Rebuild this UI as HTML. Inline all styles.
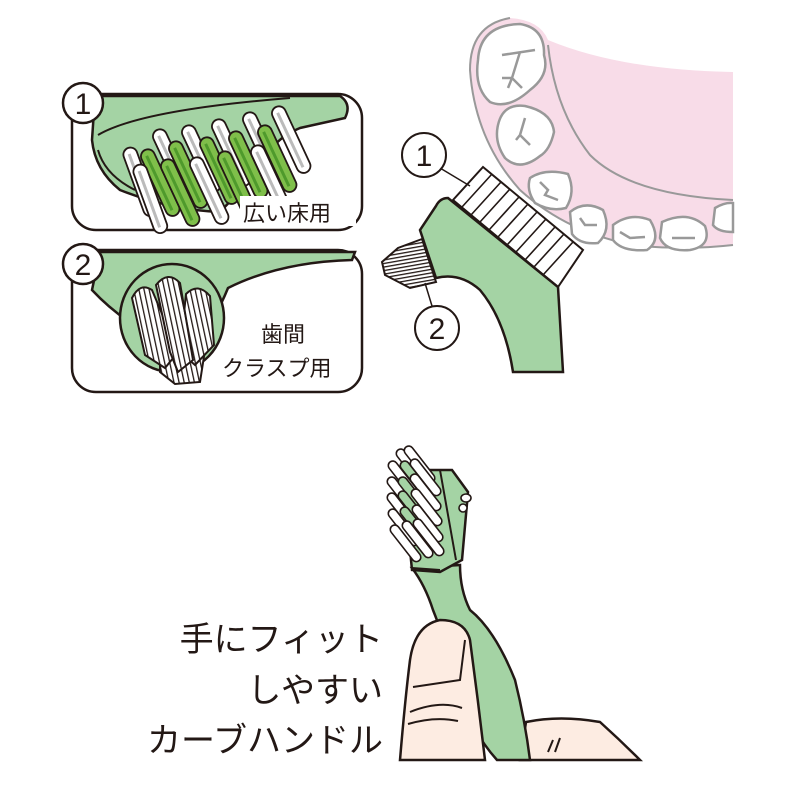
<!DOCTYPE html>
<html><head><meta charset="utf-8"><style>
html,body{margin:0;padding:0;background:#fff}
svg{display:block}
text{font-family:"Liberation Sans","Noto Sans CJK JP",sans-serif;fill:#231815}
</style></head><body>
<svg width="800" height="800" viewBox="0 0 800 800" xmlns="http://www.w3.org/2000/svg">
<defs>
<pattern id="st" width="5" height="10" patternUnits="userSpaceOnUse" patternTransform="rotate(-12)">
<rect width="5" height="10" fill="#fff"/><rect width="1.3" height="10" fill="#231815"/></pattern>
<pattern id="st3" width="10" height="3.5" patternUnits="userSpaceOnUse" patternTransform="rotate(-10)">
<rect width="10" height="3.5" fill="#fff"/><rect width="10" height="1.3" fill="#231815"/></pattern>
<g id="rw"><rect x="-7" y="0" width="14" height="72" rx="7" fill="#fff" stroke="#231815" stroke-width="1.8"/><line x1="-1" y1="6" x2="-1" y2="66" stroke="#bbb" stroke-width="3"/></g>
<g id="rg"><rect x="-7" y="0" width="14" height="72" rx="7" fill="#7fbf4a" stroke="#231815" stroke-width="1.8"/><line x1="-1" y1="6" x2="-1" y2="66" stroke="#4f9a2c" stroke-width="3"/></g>
<g id="sw"><rect x="-4.5" y="0" width="9" height="44" rx="4.5" fill="#fff" stroke="#231815" stroke-width="1.6"/></g>
<g id="sg"><rect x="-4.5" y="0" width="9" height="44" rx="4.5" fill="#a4d3a4" stroke="#231815" stroke-width="1.6"/></g>
</defs>

<!-- PANEL 1 -->
<rect x="72" y="94" width="290" height="136" rx="24" fill="#fff" stroke="#231815" stroke-width="2.5"/>
<path d="M95 96 L340 96 Q352 104 345 118 L300 128 Q270 140 260 170 L220 212 Q170 210 120 190 Q95 170 92 140 Z" fill="#a4d3a4" stroke="#231815" stroke-width="2.5"/>
<path d="M98 135 Q140 110 290 98" fill="none" stroke="#231815" stroke-width="2"/>
<path d="M98 150 Q105 175 135 190" fill="none" stroke="#231815" stroke-width="2"/>
<g>
<use href="#rw" transform="translate(276,107) rotate(-25)"/>
<use href="#rw" transform="translate(247,113) rotate(-25)"/>
<use href="#rw" transform="translate(216,120) rotate(-25)"/>
<use href="#rw" transform="translate(186,126) rotate(-25)"/>
<use href="#rw" transform="translate(157,130) rotate(-25)"/>
<use href="#rw" transform="translate(128,148) rotate(-20)"/>
<use href="#rg" transform="translate(262,126) rotate(-25)"/>
<use href="#rg" transform="translate(233,132) rotate(-25)"/>
<use href="#rg" transform="translate(204,138) rotate(-25)"/>
<use href="#rg" transform="translate(173,142) rotate(-25)"/>
<use href="#rg" transform="translate(145,150) rotate(-25)"/>
<use href="#rw" transform="translate(255,146) rotate(-25)"/>
<use href="#rg" transform="translate(222,152) rotate(-25)"/>
<use href="#rw" transform="translate(194,158) rotate(-25)"/>
<use href="#rg" transform="translate(165,160) rotate(-25)"/>
<use href="#rw" transform="translate(138,165) rotate(-20)"/>
</g>
<rect x="240" y="196" width="116" height="30" fill="#fff"/>
<text x="243" y="221" font-size="22">広い床用</text>
<circle cx="83" cy="103" r="20" fill="#fff" stroke="#231815" stroke-width="2.5"/>
<text x="83" y="114" font-size="30" text-anchor="middle">1</text>

<!-- PANEL 2 -->
<rect x="72" y="250" width="290" height="142" rx="24" fill="#fff" stroke="#231815" stroke-width="2.5"/>
<path d="M100 252 L355 252 L352 260 Q280 262 228 288 Q215 320 200 335 Q180 345 160 340 Q120 320 92 290 Z" fill="#a4d3a4" stroke="#231815" stroke-width="2.5"/>
<ellipse cx="172" cy="318" rx="52" ry="54" fill="#a4d3a4" stroke="#231815" stroke-width="2.5"/>
<g stroke="#231815" stroke-width="2">
<path d="M160 350 L205 350 L200 382 L175 384 L160 372 Z" fill="url(#st)"/>
<path d="M132 298 Q140 282 152 290 L178 352 L165 368 L145 355 Z" fill="url(#st)"/>
<path d="M186 294 Q198 282 210 296 L214 345 L195 365 L180 352 Z" fill="url(#st)"/>
<path d="M156 285 Q168 270 180 283 L193 360 L178 372 L170 352 Z" fill="url(#st)"/>
</g>
<text x="283" y="342" font-size="22" text-anchor="middle">歯間</text>
<text x="222" y="376" font-size="22">クラスプ用</text>
<circle cx="83" cy="264" r="20" fill="#fff" stroke="#231815" stroke-width="2.5"/>
<text x="83" y="275" font-size="30" text-anchor="middle">2</text>

<!-- MOUTH -->
<path d="M510 18 Q470 25 470 70 Q475 140 520 190 Q570 235 640 246 Q690 250 733 245 L733 72 Q620 70 548 40 Q540 20 510 18 Z" fill="#f8dce8"/>
<path d="M510 18 Q470 25 470 70 Q475 140 520 190 Q570 235 640 246 Q690 250 733 245" fill="none" stroke="#999" stroke-width="2"/>
<path d="M548 45 Q555 110 590 155 Q630 195 733 200" fill="none" stroke="#999" stroke-width="2"/>
<g fill="#fff" stroke="#999" stroke-width="2.5">
<path d="M478 60 Q480 25 520 24 Q545 28 544 55 Q550 75 530 90 Q508 110 490 102 Q474 88 478 60 Z"/>
<path d="M498 125 Q503 103 525 106 Q552 112 554 132 Q550 150 540 156 Q520 172 505 158 Q494 142 498 125 Z"/>
<path d="M530 178 Q545 168 568 174 Q576 192 566 208 Q550 212 535 203 Q526 190 530 178 Z"/>
<path d="M570 212 Q585 200 603 210 Q612 230 598 243 Q580 245 572 234 Z"/>
<path d="M613 225 Q630 212 650 220 Q662 240 647 250 Q622 252 613 240 Z"/>
<path d="M662 222 Q688 210 705 226 Q712 246 690 250 Q666 252 660 238 Z"/>
<path d="M715 208 Q725 202 733 203 L733 232 Q718 232 713 225 Z"/>
</g>
<g fill="none" stroke="#999" stroke-width="2.5">
<path d="M502 55 L535 50 M520 52 L512 78 L502 78 M512 78 L508 88 M512 78 L522 88"/>
<path d="M525 118 L520 135 L530 145 M520 135 L516 140"/>
<path d="M540 182 L548 190 L545 195 L558 200"/>
<path d="M580 218 L585 225 L597 225"/>
<path d="M620 232 L630 238 L645 237"/>
<path d="M672 238 L695 238"/>
</g>

<!-- BRUSH RIGHT -->
<polygon points="483,167 583,250 558,287 453,200" fill="#fff" stroke="#231815" stroke-width="2"/>
<g stroke="#231815" stroke-width="1.6">
<line x1="462" y1="207" x2="492" y2="174"/>
<line x1="471" y1="215" x2="501" y2="182"/>
<line x1="480" y1="222" x2="510" y2="189"/>
<line x1="489" y1="230" x2="519" y2="197"/>
<line x1="498" y1="237" x2="528" y2="204"/>
<line x1="507" y1="245" x2="537" y2="212"/>
<line x1="516" y1="252" x2="546" y2="219"/>
<line x1="525" y1="260" x2="555" y2="227"/>
<line x1="534" y1="267" x2="564" y2="234"/>
<line x1="543" y1="275" x2="573" y2="242"/>
</g>
<path d="M422 239 L398 248 L382 262 L385 275 L410 288 L436 282 Z" fill="url(#st3)" stroke="#231815" stroke-width="2"/>
<path d="M448 198 Q440 198 436 206 L420 230 L436 278 Q460 272 480 290 Q505 320 513 372 L563 372 L558 287 Z" fill="#a4d3a4" stroke="#231815" stroke-width="2.5"/>
<line x1="440" y1="168" x2="470" y2="186" stroke="#231815" stroke-width="1.5"/>
<circle cx="424" cy="155" r="22" fill="#fff" stroke="#231815" stroke-width="2"/>
<text x="424" y="166" font-size="30" text-anchor="middle">1</text>
<line x1="425" y1="283" x2="432" y2="306" stroke="#231815" stroke-width="1.5"/>
<circle cx="437" cy="328" r="22" fill="#fff" stroke="#231815" stroke-width="2"/>
<text x="437" y="339" font-size="30" text-anchor="middle">2</text>

<!-- BOTTOM: right hand behind -->
<path d="M520 760 L526 722 Q560 715 600 722 Q620 740 640 760 Z" fill="#fdece2" stroke="#231815" stroke-width="2.5"/>
<path d="M555 752 L560 738 M548 752 L553 740" stroke="#231815" stroke-width="2"/>
<!-- handle -->
<path d="M412 568 Q425 585 433 610 Q445 640 460 690 Q470 730 497 760 L530 760 Q525 720 515 680 Q495 630 470 610 Q460 590 460 565 Z" fill="#a4d3a4" stroke="#231815" stroke-width="2.5"/>
<!-- head -->
<path d="M402 470 L452 470 L468 492 L462 560 L440 572 L412 570 Z" fill="#a4d3a4" stroke="#231815" stroke-width="2.5"/>
<path d="M440 470 L456 560 M412 568 L440 570" stroke="#231815" stroke-width="2" fill="none"/>
<g stroke="#231815" stroke-width="1.6" fill="#fff">
<ellipse cx="466" cy="498" rx="5" ry="4"/><ellipse cx="463" cy="508" rx="4" ry="4"/>
</g>
<g>
<use href="#sw" transform="translate(398,450) rotate(-38)"/>
<use href="#sw" transform="translate(406,447) rotate(-38)"/>
<use href="#sw" transform="translate(390,462) rotate(-38)"/>
<use href="#sg" transform="translate(402,462) rotate(-38)"/>
<use href="#sw" transform="translate(412,460) rotate(-38)"/>
<use href="#sw" transform="translate(389,478) rotate(-38)"/>
<use href="#sg" transform="translate(400,478) rotate(-38)"/>
<use href="#sw" transform="translate(412,475) rotate(-38)"/>
<use href="#sw" transform="translate(389,494) rotate(-38)"/>
<use href="#sg" transform="translate(400,492) rotate(-38)"/>
<use href="#sw" transform="translate(413,490) rotate(-38)"/>
<use href="#sw" transform="translate(390,510) rotate(-38)"/>
<use href="#sg" transform="translate(402,508) rotate(-38)"/>
<use href="#sw" transform="translate(414,506) rotate(-38)"/>
<use href="#sw" transform="translate(392,526) rotate(-38)"/>
<use href="#sw" transform="translate(404,522) rotate(-38)"/>
<use href="#sw" transform="translate(415,520) rotate(-38)"/>
</g>
<!-- thumb -->
<path d="M400 760 Q405 700 410 660 Q415 625 440 620 Q465 620 470 640 Q478 700 485 760 Z" fill="#fdece2" stroke="#231815" stroke-width="2.5"/>
<path d="M413 687 L460 680 L465 640" fill="none" stroke="#231815" stroke-width="2"/>
<path d="M410 712 Q440 700 462 708 M408 724 Q435 716 458 721" fill="none" stroke="#231815" stroke-width="2"/>

<text x="383" y="651" font-size="34" text-anchor="end">手にフィット</text>
<text x="383" y="702" font-size="34" text-anchor="end">しやすい</text>
<text x="383" y="752" font-size="34" text-anchor="end">カーブハンドル</text>
</svg>
</body></html>
